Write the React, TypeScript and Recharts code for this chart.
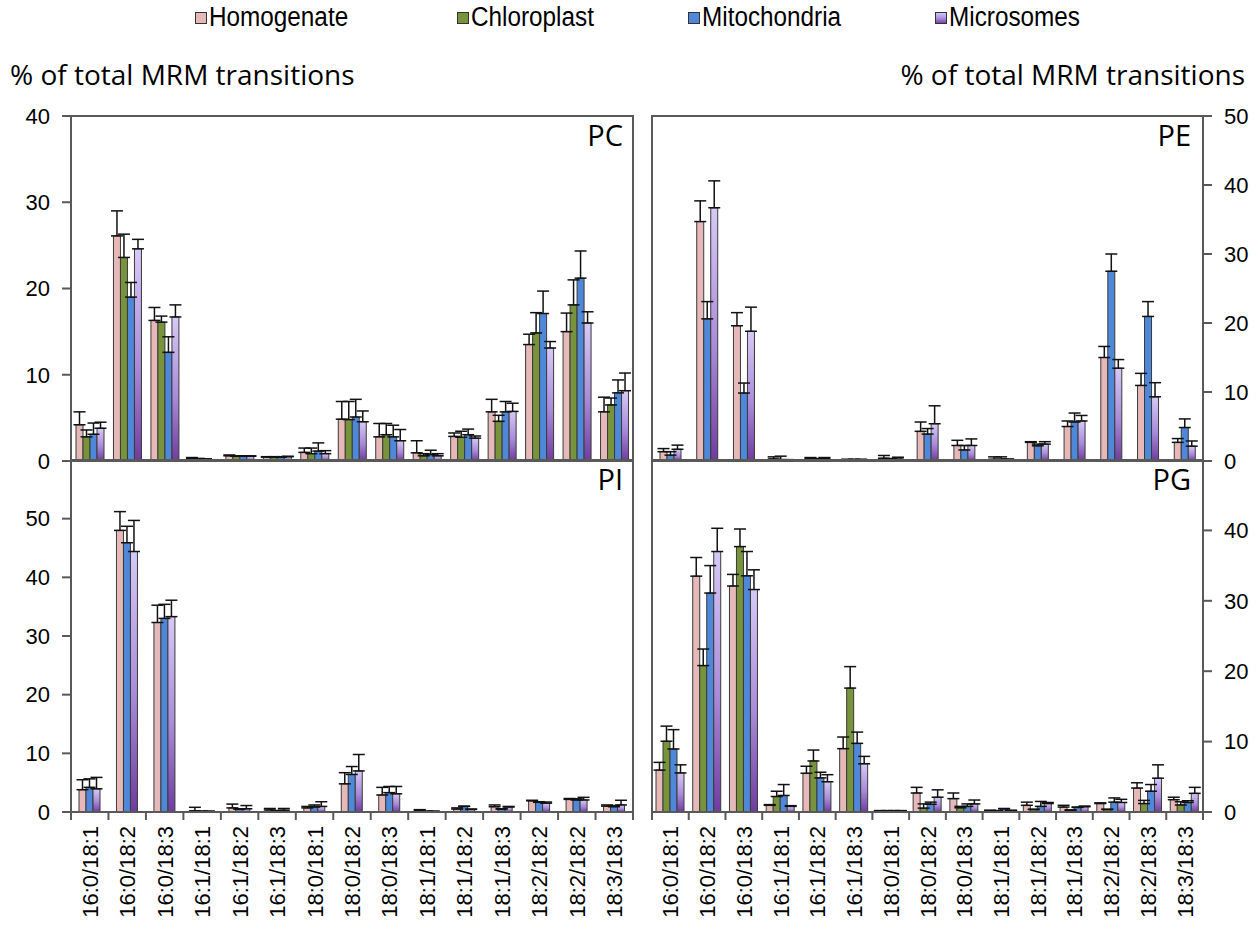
import { BarChart, Bar, XAxis, YAxis, ErrorBar } from 'recharts';

// x categories (left panels repeat 18:2/18:2 as in the original figure)
const leftCategories = [
  '16:0/18:1', '16:0/18:2', '16:0/18:3', '16:1/18:1', '16:1/18:2', '16:1/18:3', '18:0/18:1',
  '18:0/18:2', '18:0/18:3', '18:1/18:1', '18:1/18:2', '18:1/18:3', '18:2/18:2', '18:2/18:2', '18:3/18:3',
];
const rightCategories = [
  '16:0/18:1', '16:0/18:2', '16:0/18:3', '16:1/18:1', '16:1/18:2', '16:1/18:3', '18:0/18:1',
  '18:0/18:2', '18:0/18:3', '18:1/18:1', '18:1/18:2', '18:1/18:3', '18:2/18:2', '18:2/18:3', '18:3/18:3',
];

// PC
const pcHom = [4.2, 26.1, 16.3, 0.3, 0.6, 0.45, 1.0, 4.85, 2.8, 0.95, 2.85, 5.7, 13.5, 15.0, 5.7];
const pcHomErr = [1.5, 2.9, 1.5, 0.1, 0.1, 0.05, 0.5, 2.05, 1.55, 1.4, 0.4, 1.45, 1.2, 2.15, 1.7];
const pcChl = [2.8, 23.6, 16.1, 0.25, 0.55, 0.45, 0.85, 4.8, 3.05, 0.6, 2.75, 4.6, 14.85, 18.1, 6.5];
const pcChlErr = [0.8, 2.7, 0.7, 0.05, 0.05, 0.05, 0.65, 2.1, 1.3, 0.25, 0.7, 0.7, 2.35, 2.9, 0.8];
const pcMit = [3.1, 19.0, 12.6, 0.2, 0.55, 0.45, 1.15, 5.1, 2.8, 0.75, 3.05, 5.7, 17.1, 21.2, 7.9];
const pcMitErr = [1.3, 1.7, 1.8, 0.05, 0.05, 0.05, 0.95, 2.05, 1.35, 0.5, 0.65, 1.2, 2.6, 3.15, 1.5];
const pcMic = [3.8, 24.6, 16.7, 0.1, 0.55, 0.5, 0.85, 4.55, 2.35, 0.6, 2.65, 5.75, 13.1, 16.0, 8.15];
const pcMicErr = [0.7, 1.1, 1.4, 0.05, 0.05, 0.05, 0.35, 1.25, 1.3, 0.25, 0.25, 0.95, 0.75, 1.3, 2.05];

// PE (no chloroplast)
const peHom = [1.35, 34.7, 19.6, 0.3, 0.4, 0.2, 0.4, 4.3, 2.25, 0.25, 2.7, 5.0, 15.0, 10.95, 2.7];
const peHomErr = [0.45, 3.0, 1.9, 0.3, 0.1, 0.05, 0.4, 1.35, 0.75, 0.35, 0.1, 0.8, 1.6, 1.75, 0.55];
const peMit = [0.85, 20.6, 9.85, 0.2, 0.3, 0.2, 0.25, 3.9, 1.6, 0.25, 2.2, 5.65, 27.5, 20.95, 4.85];
const peMitErr = [0.5, 2.5, 1.45, 0.5, 0.05, 0.05, 0.1, 0.8, 0.65, 0.35, 0.25, 1.3, 2.5, 2.15, 1.25];
const peMic = [1.7, 36.7, 18.8, 0.1, 0.4, 0.2, 0.45, 5.4, 2.25, 0.2, 2.45, 5.8, 13.45, 9.3, 2.15];
const peMicErr = [0.6, 3.9, 3.5, 0.1, 0.1, 0.05, 0.1, 2.6, 0.95, 0.1, 0.35, 0.8, 1.25, 2.05, 0.75];

// PI (no chloroplast)
const piHom = [3.8, 48.0, 32.3, 0.2, 0.7, 0.35, 0.7, 4.8, 2.9, 0.3, 0.5, 0.9, 1.9, 2.15, 1.0];
const piHomErr = [1.7, 3.2, 2.95, 0.6, 0.65, 0.25, 0.25, 1.9, 1.3, 0.1, 0.2, 0.3, 0.1, 0.15, 0.2];
const piMit = [4.2, 45.9, 33.0, 0.1, 0.5, 0.2, 0.85, 6.4, 3.3, 0.1, 0.95, 0.5, 1.65, 2.05, 0.9];
const piMitErr = [1.45, 2.8, 2.4, 0.05, 0.05, 0.05, 0.35, 1.35, 1.05, 0.05, 0.05, 0.05, 0.1, 0.2, 0.2];
const piMic = [3.95, 44.4, 33.3, 0.1, 0.55, 0.3, 0.95, 7.0, 3.1, 0.1, 0.45, 0.85, 1.5, 2.05, 1.2];
const piMicErr = [1.95, 5.3, 2.8, 0.05, 0.55, 0.3, 0.8, 2.8, 1.25, 0.05, 0.05, 0.1, 0.2, 0.45, 0.8];

// PG
const pgHom = [5.95, 33.5, 32.1, 0.95, 5.5, 9.0, 0.15, 2.7, 1.9, 0.2, 0.95, 0.7, 1.2, 3.4, 1.75];
const pgHomErr = [1.1, 2.65, 1.65, 0.1, 1.0, 1.65, 0.05, 0.8, 0.8, 0.05, 0.45, 0.25, 0.1, 0.75, 0.35];
const pgChl = [10.05, 20.8, 37.7, 2.2, 7.25, 17.6, 0.15, 0.55, 0.6, 0.15, 0.35, 0.25, 0.35, 1.2, 1.0];
const pgChlErr = [2.15, 2.35, 2.5, 0.75, 1.55, 3.05, 0.05, 0.6, 0.2, 0.05, 0.05, 0.05, 0.05, 0.45, 0.45];
const pgMit = [8.95, 31.1, 33.55, 2.35, 4.85, 9.75, 0.15, 1.1, 0.8, 0.45, 0.8, 0.65, 1.4, 2.95, 1.35];
const pgMitErr = [2.75, 3.9, 3.45, 1.55, 0.8, 1.6, 0.05, 0.3, 0.35, 0.05, 0.7, 0.05, 0.6, 0.95, 0.25];
const pgMic = [5.55, 37.0, 31.6, 0.8, 4.3, 6.85, 0.15, 2.1, 1.15, 0.2, 1.2, 0.75, 1.35, 4.8, 2.65];
const pgMicErr = [1.15, 3.3, 2.8, 0.1, 1.0, 1.05, 0.05, 1.05, 0.55, 0.05, 0.15, 0.1, 0.45, 1.9, 0.85];

const pcTicks = [0, 10, 20, 30, 40];
const peTicks = [0, 10, 20, 30, 40, 50];
const piTicks = [0, 10, 20, 30, 40, 50];
const pgTicks = [0, 10, 20, 30, 40];

const SERIES = [
  { key: 'hom', name: 'Homogenate', fill: '#e6b9b8' },
  { key: 'chl', name: 'Chloroplast', fill: '#77933c' },
  { key: 'mit', name: 'Mitochondria', fill: '#4f88d8' },
  { key: 'mic', name: 'Microsomes', fill: 'url(#micGrad)' },
];

const AXIS = '#595959';
const TICK_FONT = "'Liberation Sans', Arial, sans-serif";
const LABEL_FONT = "'Open Sans', 'Noto Sans', sans-serif";

function buildRows(cats: string[], cols: Record<string, number[]>) {
  return cats.map((cat, i) => {
    const row: Record<string, any> = { cat };
    Object.keys(cols).forEach((k) => {
      row[k] = cols[k][i];
    });
    return row;
  });
}

const pcRows = buildRows(leftCategories, {
  hom: pcHom, homErr: pcHomErr, chl: pcChl, chlErr: pcChlErr,
  mit: pcMit, mitErr: pcMitErr, mic: pcMic, micErr: pcMicErr,
});
const peRows = buildRows(rightCategories, {
  hom: peHom, homErr: peHomErr, mit: peMit, mitErr: peMitErr, mic: peMic, micErr: peMicErr,
});
const piRows = buildRows(leftCategories, {
  hom: piHom, homErr: piHomErr, mit: piMit, mitErr: piMitErr, mic: piMic, micErr: piMicErr,
});
const pgRows = buildRows(rightCategories, {
  hom: pgHom, homErr: pgHomErr, chl: pgChl, chlErr: pgChlErr,
  mit: pgMit, mitErr: pgMitErr, mic: pgMic, micErr: pgMicErr,
});

function makeCategoryTick(bandWidth: number, count: number) {
  return (props: any) => {
    const { x, y, payload, index } = props;
    const half = bandWidth / 2;
    return (
      <g>
        <line x1={x - half} x2={x - half} y1={y} y2={y + 8} stroke={AXIS} strokeWidth={2} />
        {index === count - 1 && (
          <line x1={x + half} x2={x + half} y1={y} y2={y + 8} stroke={AXIS} strokeWidth={2} />
        )}
        <text
          transform={`translate(${x + 8},${y + 14}) rotate(-90)`}
          textAnchor="end"
          fontSize={22}
          fontFamily={TICK_FONT}
          fill="#000"
        >
          {payload.value}
        </text>
      </g>
    );
  };
}

interface PanelProps {
  rows: Record<string, any>[];
  keys: string[];
  side: 'left' | 'right';
  row: 'top' | 'bottom';
  domain: [number, number];
  ticks: number[];
  label: string;
}

function Panel({ rows, keys, side, row, domain, ticks, label }: PanelProps) {
  const isLeft = side === 'left';
  const isTop = row === 'top';
  const boxLeft = isLeft ? 0 : 630;
  const boxWidth = isLeft ? 650 : 628;
  const boxTop = isTop ? 100 : 444;
  const boxHeight = isTop ? 385 : 485;
  const plotLeft = isLeft ? 71 : 652;
  const plotRight = isLeft ? 633 : 1203;
  const plotTop = isTop ? 116 : 460;
  const plotBottom = isTop ? 461 : 812;
  const band = (plotRight - plotLeft) / rows.length;
  const margin = isLeft
    ? { top: 16, right: 17, left: 0, bottom: isTop ? 24 : 0 }
    : { top: 16, right: 0, left: 22, bottom: isTop ? 24 : 0 };

  return (
    <>
      {/* panel frame */}
      <div
        style={{
          position: 'absolute',
          left: plotLeft - 1,
          top: plotTop - 1,
          width: plotRight - plotLeft + 2,
          height: plotBottom - plotTop + 2,
          border: `2px solid ${AXIS}`,
          boxSizing: 'border-box',
        }}
      />
      <div style={{ position: 'absolute', left: boxLeft, top: boxTop }}>
        <BarChart width={boxWidth} height={boxHeight} data={rows} margin={margin} barGap={0} barSize={7}>
          <XAxis
            dataKey="cat"
            interval={0}
            axisLine={{ stroke: AXIS, strokeWidth: 2 }}
            tickLine={false}
            tickSize={0}
            tickMargin={0}
            height={isTop ? 0 : 117}
            tick={isTop ? false : makeCategoryTick(band, rows.length)}
          />
          <YAxis
            orientation={side}
            width={isLeft ? 71 : 55}
            domain={domain}
            ticks={ticks}
            interval={0}
            allowDataOverflow
            axisLine={{ stroke: AXIS, strokeWidth: 2 }}
            tickLine={{ stroke: AXIS, strokeWidth: 2 }}
            tickSize={9}
            tickMargin={12}
            tick={{ fontSize: 22, fill: '#000', fontFamily: TICK_FONT }}
          />
          {SERIES.filter((s) => keys.includes(s.key)).map((s) => (
            <Bar
              key={s.key}
              dataKey={s.key}
              name={s.name}
              fill={s.fill}
              stroke="#3a3a3a"
              strokeWidth={1}
              isAnimationActive={false}
            >
              <ErrorBar
                dataKey={(d: any) => [0, d[`${s.key}Err`]]}
                direction="y"
                width={6}
                stroke="#111"
                strokeWidth={1.5}
              />
            </Bar>
          ))}
        </BarChart>
      </div>
      <div
        style={{
          position: 'absolute',
          right: isLeft ? 1258 - 623 : 1258 - 1191,
          top: plotTop + 4,
          fontFamily: LABEL_FONT,
          fontSize: 29,
          color: '#000',
          lineHeight: 1,
        }}
      >
        {label}
      </div>
    </>
  );
}

function LegendItem({ name, fill, left }: { name: string; fill: string; left: number }) {
  return (
    <div style={{ position: 'absolute', left, top: 2, display: 'flex', alignItems: 'center' }}>
      <svg width={12} height={12} style={{ marginRight: 2, flex: 'none' }}>
        <rect x={0.5} y={0.5} width={11} height={11} fill={fill} stroke="#333" strokeWidth={1} />
      </svg>
      <span
        style={{
          fontFamily: "'Liberation Sans Narrow', 'Arial Narrow', 'Liberation Sans', sans-serif",
          fontSize: 27,
          color: '#000',
          display: 'inline-block',
          transform: 'scaleX(0.9)',
          transformOrigin: 'left center',
          whiteSpace: 'nowrap',
        }}
      >
        {name}
      </span>
    </div>
  );
}

const legendLeft = [195, 457, 688, 935];

export default function App() {
  return (
    <div
      style={{
        position: 'absolute',
        left: 0,
        top: 0,
        width: 1258,
        height: 929,
        background: '#fff',
        overflow: 'hidden',
      }}
    >
      <svg width={0} height={0} style={{ position: 'absolute' }}>
        <defs>
          <linearGradient id="micGrad" x1="0" y1="0" x2="0" y2="1">
            <stop offset="0%" stopColor="#d6c9f6" />
            <stop offset="55%" stopColor="#a98bd8" />
            <stop offset="100%" stopColor="#6f3c9e" />
          </linearGradient>
        </defs>
      </svg>

      {SERIES.map((s, i) => (
        <LegendItem key={s.key} name={s.name} fill={s.fill} left={legendLeft[i]} />
      ))}

      <div style={{ position: 'absolute', left: 10, top: 55, fontFamily: LABEL_FONT, fontSize: 28, color: '#000', whiteSpace: 'nowrap' }}>
        % of total MRM transitions
      </div>
      <div style={{ position: 'absolute', right: 13, top: 55, fontFamily: LABEL_FONT, fontSize: 28, color: '#000', whiteSpace: 'nowrap' }}>
        % of total MRM transitions
      </div>

      <Panel rows={pcRows} keys={['hom', 'chl', 'mit', 'mic']} side="left" row="top" domain={[0, 40]} ticks={pcTicks} label="PC" />
      <Panel rows={peRows} keys={['hom', 'mit', 'mic']} side="right" row="top" domain={[0, 50]} ticks={peTicks} label="PE" />
      <Panel rows={piRows} keys={['hom', 'mit', 'mic']} side="left" row="bottom" domain={[0, 60]} ticks={piTicks} label="PI" />
      <Panel rows={pgRows} keys={['hom', 'chl', 'mit', 'mic']} side="right" row="bottom" domain={[0, 50]} ticks={pgTicks} label="PG" />
    </div>
  );
}
